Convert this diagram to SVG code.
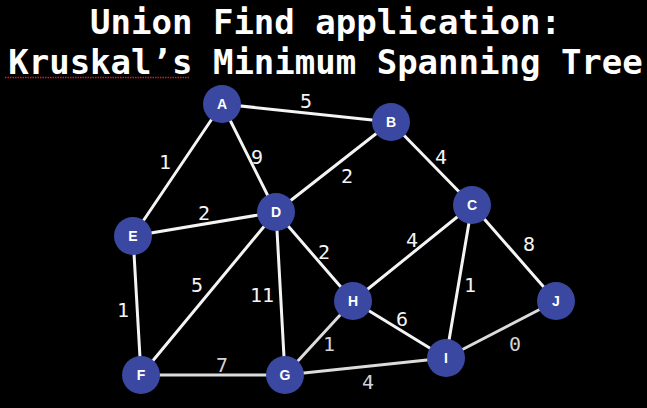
<svg xmlns="http://www.w3.org/2000/svg" width="647" height="408" viewBox="0 0 647 408">
<style>
.title{font-family:"DejaVu Sans Mono","Liberation Mono",monospace;font-weight:bold;font-size:34px;fill:#ffffff;text-anchor:middle}
.edge{stroke:#f4f4f4;stroke-width:3;stroke-linecap:round}
.edge.dim{stroke:#dcdcdc}
.w{font-family:"DejaVu Sans Mono","Liberation Mono",monospace;font-size:20px;fill:#f4f4f4;text-anchor:middle}
.w.dim{fill:#d4d4d4}
.node circle{fill:#3a48a2}
.node text{font-family:"Liberation Sans",Arial,sans-serif;font-weight:bold;font-size:14px;fill:#ffffff;text-anchor:middle}
</style>
<rect width="647" height="408" fill="#000000"/>
<text class="title" x="325.5" y="34">Union Find application:</text>
<text class="title" x="325.5" y="74">Kruskal’s Minimum Spanning Tree</text>
<line x1="5" y1="77.5" x2="190" y2="77.5" stroke="#c8202a" stroke-width="1.5" stroke-dasharray="1.5,1"/>
<g id="connectors">
<line class="edge" x1="222" y1="104" x2="391" y2="122"/>
<line class="edge" x1="222" y1="104" x2="133" y2="236"/>
<line class="edge" x1="222" y1="104" x2="276" y2="212"/>
<line class="edge" x1="391" y1="122" x2="276" y2="212"/>
<line class="edge" x1="391" y1="122" x2="472" y2="205"/>
<line class="edge" x1="133" y1="236" x2="276" y2="212"/>
<line class="edge" x1="133" y1="236" x2="141" y2="375"/>
<line class="edge" x1="276" y1="212" x2="141" y2="375"/>
<line class="edge" x1="276" y1="212" x2="285" y2="375"/>
<line class="edge" x1="276" y1="212" x2="353" y2="301"/>
<line class="edge" x1="472" y1="205" x2="353" y2="301"/>
<line class="edge" x1="472" y1="205" x2="446" y2="358"/>
<line class="edge" x1="472" y1="205" x2="556" y2="301"/>
<line class="edge" x1="353" y1="301" x2="446" y2="358"/>
<line class="edge dim" x1="353" y1="301" x2="285" y2="375"/>
<line class="edge dim" x1="141" y1="375" x2="285" y2="375"/>
<line class="edge dim" x1="285" y1="375" x2="446" y2="358"/>
<line class="edge dim" x1="446" y1="358" x2="556" y2="301"/>
<text class="w" x="306" y="108">5</text>
<text class="w" x="165" y="169">1</text>
<text class="w" x="257" y="164">9</text>
<text class="w" x="347" y="183">2</text>
<text class="w" x="204" y="220">2</text>
<text class="w" x="441" y="164">4</text>
<text class="w" x="412" y="247">4</text>
<text class="w" x="529" y="251">8</text>
<text class="w" x="324" y="259">2</text>
<text class="w" x="197" y="292">5</text>
<text class="w" x="262" y="302">11</text>
<text class="w" x="123" y="317">1</text>
<text class="w dim" x="222" y="372">7</text>
<text class="w dim" x="329" y="351">1</text>
<text class="w dim" x="368" y="389">4</text>
<text class="w" x="402" y="326">6</text>
<text class="w" x="470" y="292">1</text>
<text class="w dim" x="515" y="351">0</text>
</g>
<g id="node-A" class="node"><circle cx="222" cy="104" r="19"/><text x="222" y="109">A</text></g>
<g id="node-B" class="node"><circle cx="391" cy="122" r="19"/><text x="391" y="127">B</text></g>
<g id="node-C" class="node"><circle cx="472" cy="205" r="19"/><text x="472" y="210">C</text></g>
<g id="node-D" class="node"><circle cx="276" cy="212" r="19"/><text x="276" y="217">D</text></g>
<g id="node-E" class="node"><circle cx="133" cy="236" r="19"/><text x="133" y="241">E</text></g>
<g id="node-F" class="node"><circle cx="141" cy="375" r="19"/><text x="141" y="380">F</text></g>
<g id="node-G" class="node"><circle cx="285" cy="375" r="19"/><text x="285" y="380">G</text></g>
<g id="node-H" class="node"><circle cx="353" cy="301" r="19"/><text x="353" y="306">H</text></g>
<g id="node-I" class="node"><circle cx="446" cy="358" r="19"/><text x="446" y="363">I</text></g>
<g id="node-J" class="node"><circle cx="556" cy="301" r="19"/><text x="556" y="306">J</text></g>
</svg>
